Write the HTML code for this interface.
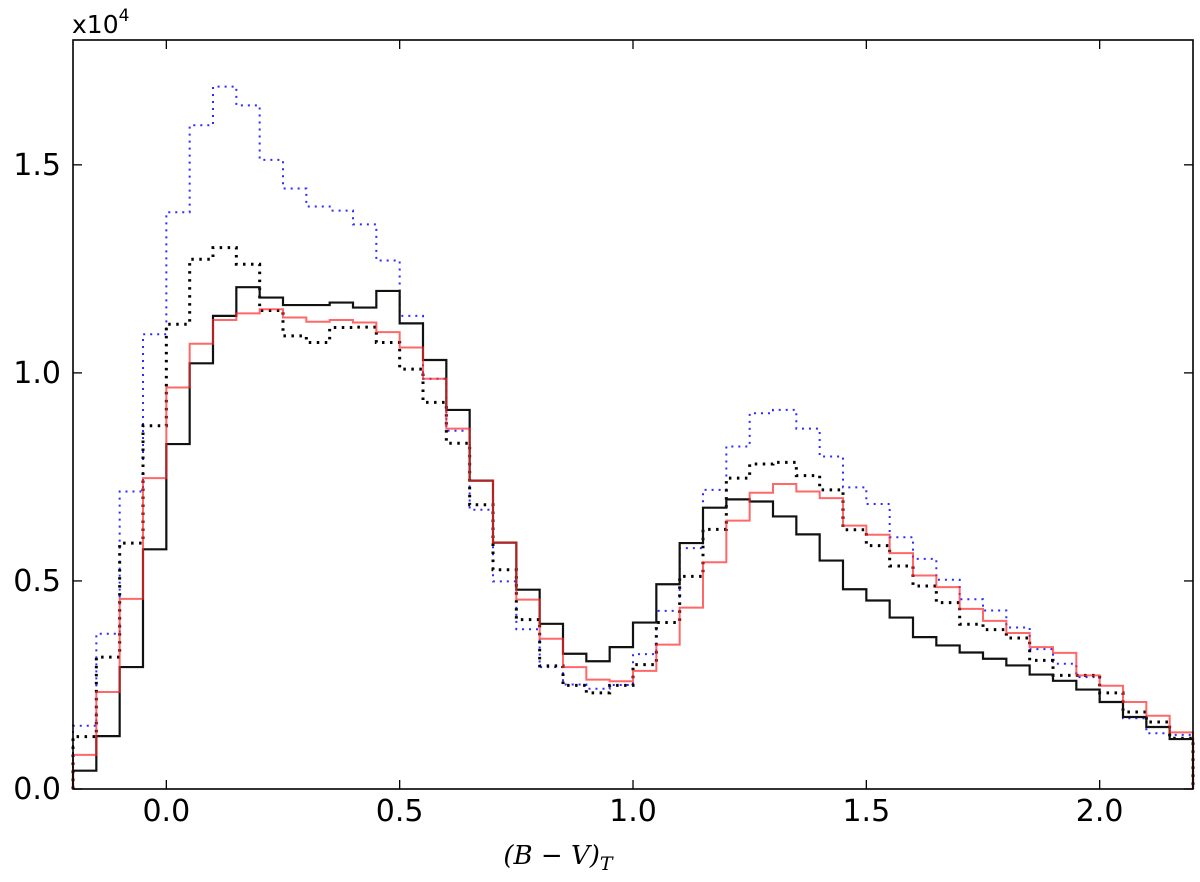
<!DOCTYPE html>
<html><head><meta charset="utf-8">
<style>
html,body{margin:0;padding:0;background:#fff;}
svg{display:block;font-family:"DejaVu Sans","Liberation Sans",sans-serif;}
</style></head>
<body>
<svg id="chart" width="1200" height="882" viewBox="0 0 1200 882" xmlns="http://www.w3.org/2000/svg">
<rect width="1200" height="882" fill="#fff"/>
<g id="ticks"></g>
<g id="series"></g>
<rect x="73" y="40" width="1120" height="749" fill="none" stroke="#000" stroke-width="1.6"/>
<text x="72" y="33" font-size="25">x10<tspan dy="-12" font-size="17">4</tspan></text>
<text x="558" y="864" font-size="26" text-anchor="middle" font-family="'DejaVu Serif','Liberation Serif',serif" font-style="italic">(B − V)<tspan dy="6" font-size="19">T</tspan></text>
</svg>
<script>
const binStart = -0.2, binWidth = 0.05;
const xTicks = [0.0, 0.5, 1.0, 1.5, 2.0];
const xTickLabels = ["0.0", "0.5", "1.0", "1.5", "2.0"];
const yTicks = [0.0, 0.5, 1.0, 1.5];
const yTickLabels = ["0.0", "0.5", "1.0", "1.5"];
const blackSolid = [0.044,0.127,0.293,0.576,0.829,1.023,1.137,1.206,1.181,1.163,1.163,1.169,1.157,1.197,1.119,1.031,
 0.911,0.741,0.592,0.479,0.397,0.325,0.307,0.341,0.40,0.492,0.591,0.676,0.696,0.691,0.655,0.612,
 0.549,0.480,0.453,0.412,0.365,0.345,0.328,0.313,0.297,0.275,0.260,0.239,0.209,0.173,0.149,0.120];
const redSolid = [0.082,0.233,0.457,0.747,0.965,1.070,1.127,1.143,1.153,1.133,1.123,1.127,1.121,1.098,1.061,0.986,
 0.866,0.741,0.592,0.455,0.361,0.293,0.263,0.259,0.284,0.347,0.436,0.545,0.645,0.712,0.733,0.715,
 0.699,0.633,0.611,0.567,0.513,0.485,0.433,0.404,0.375,0.341,0.327,0.273,0.248,0.209,0.176,0.136];
const blackDotted = [0.126,0.317,0.591,0.873,1.117,1.273,1.301,1.261,1.150,1.089,1.073,1.109,1.110,1.073,1.009,0.929,
 0.831,0.683,0.527,0.407,0.296,0.249,0.231,0.249,0.299,0.40,0.511,0.624,0.747,0.781,0.785,0.753,
 0.719,0.623,0.585,0.536,0.488,0.448,0.396,0.383,0.363,0.309,0.273,0.273,0.231,0.185,0.161,0.122];
const blueDotted = [0.152,0.373,0.715,1.093,1.386,1.595,1.688,1.643,1.512,1.443,1.40,1.39,1.357,1.270,1.137,0.986,
 0.861,0.671,0.499,0.384,0.293,0.251,0.241,0.25,0.324,0.428,0.579,0.719,0.823,0.903,0.911,0.866,
 0.799,0.725,0.685,0.605,0.553,0.503,0.456,0.429,0.388,0.336,0.301,0.269,0.209,0.170,0.134,0.13];

const X0=73, X1=1193, Y0=789, Y1=40, XMIN=-0.2, XMAX=2.2, YMIN=0, YMAX=1.8;
const NS="http://www.w3.org/2000/svg";
function xs(v){return X0+(v-XMIN)/(XMAX-XMIN)*(X1-X0);}
function ys(v){return Y0-(v-YMIN)/(YMAX-YMIN)*(Y0-Y1);}
function mk(tag,attrs,parent){const e=document.createElementNS(NS,tag);for(const k in attrs)e.setAttribute(k,attrs[k]);parent.appendChild(e);return e;}

const tg=document.getElementById('ticks');
xTicks.forEach((t,i)=>{
  const x=xs(t);
  const a=mk('line',{x1:x,x2:x,y1:Y0,y2:Y0-9,stroke:'#000','stroke-width':1.3},tg);
  
  
  const b=mk('line',{x1:x,x2:x,y1:Y1,y2:Y1+9,stroke:'#000','stroke-width':1.3},tg);
  
  
  const l=mk('text',{x:x,y:Y0+32,'font-size':30,'text-anchor':'middle'},tg);
  l.textContent=xTickLabels[i];
  
  
});
yTicks.forEach((t,i)=>{
  const y=ys(t);
  const a=mk('line',{x1:X0,x2:X0+9,y1:y,y2:y,stroke:'#000','stroke-width':1.3},tg);
  
  
  const b=mk('line',{x1:X1,x2:X1-9,y1:y,y2:y,stroke:'#000','stroke-width':1.3},tg);
  
  
  const l=mk('text',{x:61,y:y+10,'font-size':30,'text-anchor':'end'},tg);
  l.textContent=yTickLabels[i];
  
  
});

function stepPath(vals){
  let d='M'+xs(binStart)+','+ys(0);
  vals.forEach((v,i)=>{
    const a=binStart+i*binWidth, b=a+binWidth;
    d+=' L'+xs(a)+','+ys(v)+' L'+xs(b)+','+ys(v);
  });
  d+=' L'+xs(binStart+vals.length*binWidth)+','+ys(0);
  return d;
}
const sg=document.getElementById('series');
const p1=mk('path',{d:stepPath(blueDotted),fill:'none',stroke:'#2b2bff','stroke-width':2,'stroke-dasharray':'2,5'},sg);


const p2=mk('path',{d:stepPath(blackDotted),fill:'none',stroke:'#000','stroke-width':3,'stroke-dasharray':'2.5,5.5'},sg);


const p3=mk('path',{d:stepPath(blackSolid),fill:'none',stroke:'#111','stroke-width':2.2},sg);


const p4=mk('path',{d:stepPath(redSolid),fill:'none',stroke:'rgba(255,40,40,0.7)','stroke-width':2},sg);


</script>
</body></html>
